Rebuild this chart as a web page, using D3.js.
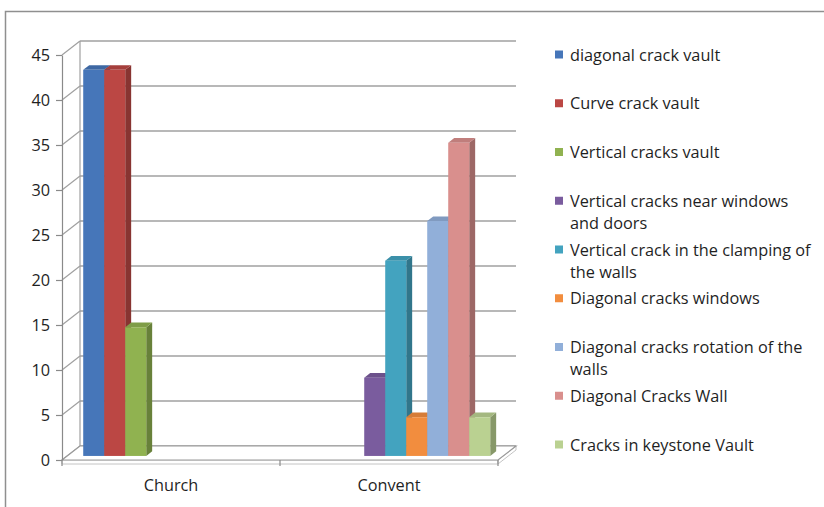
<!DOCTYPE html>
<html>
<head>
<meta charset="utf-8">
<script src="https://cdn.jsdelivr.net/npm/d3@7"></script>
<style>
  html, body { margin: 0; padding: 0; background: #ffffff; }
  svg { display: block; }
  text { font-family: "Open Sans", sans-serif; fill: #1f1f1f; }
</style>
</head>
<body>
<svg id="chart" width="824" height="507"></svg>
<script>
// Crack types recorded in the church and the convent (share of cracks, %)
const categories = ["Church", "Convent"];
const seriesNames = [
  "diagonal crack vault",
  "Curve crack vault",
  "Vertical cracks vault",
  "Vertical cracks near windows and doors",
  "Vertical crack in the clamping of the walls",
  "Diagonal cracks windows",
  "Diagonal cracks rotation of the walls",
  "Diagonal Cracks Wall",
  "Cracks in keystone Vault"
];
const seriesColors = [
  "#4676b9", "#bb4744", "#90b250", "#7a5c9e", "#43a3bf",
  "#f28d3e", "#91afd9", "#d98f8d", "#bad191"
];
const churchValues  = [42.9, 42.9, 14.3, 0, 0, 0, 0, 0, 0];
const conventValues = [0, 0, 0, 8.7, 21.7, 4.3, 26.1, 34.8, 4.3];
const yTicks = [0, 5, 10, 15, 20, 25, 30, 35, 40, 45];

const valuesByCategory = { Church: churchValues, Convent: conventValues };

const svg = d3.select("#chart");
const FONT = "'Open Sans', sans-serif";
const FONT_SIZE = 16.3;

// Outer chart border
svg.append("rect")
  .attr("x", 5.5).attr("y", 11.5)
  .attr("width", 840).attr("height", 520)
  .attr("fill", "#ffffff")
  .attr("stroke", "#8f8f8f").attr("stroke-width", 1.5);

// Oblique 3D projection: front plane plus a depth offset
const DX = 18, DY = -14;          // full depth of the floor
const F0 = 0.29, F1 = 0.62;       // bar depth span (fraction of floor depth)

const x0 = d3.scaleBand().domain(categories).range([62, 498]).padding(0);
const x1 = d3.scaleBand().domain(seriesNames).range([16, 205]).padding(0);
const y = d3.scaleLinear().domain([0, 45]).range([460, 55]);

const gridColor = "#a0a0a0";
const walls = svg.append("g");

// Back wall gridlines
walls.selectAll("line.back")
  .data(yTicks)
  .join("line")
  .attr("x1", 62 + DX).attr("x2", 498 + DX)
  .attr("y1", d => y(d) + DY).attr("y2", d => y(d) + DY)
  .attr("stroke", gridColor).attr("stroke-width", 1.4);

// Side wall gridlines (front axis to back wall)
walls.selectAll("line.side")
  .data(yTicks)
  .join("line")
  .attr("x1", 62).attr("x2", 62 + DX)
  .attr("y1", d => y(d)).attr("y2", d => y(d) + DY)
  .attr("stroke", gridColor).attr("stroke-width", 1.2);

// Back wall left edge
walls.append("line")
  .attr("x1", 62 + DX).attr("x2", 62 + DX)
  .attr("y1", y(45) + DY).attr("y2", y(0) + DY)
  .attr("stroke", gridColor).attr("stroke-width", 1.2);

// Floor slab
const fl = [[62, y(0)], [498, y(0)], [498 + DX, y(0) + DY], [62 + DX, y(0) + DY]];
walls.append("polygon")
  .attr("points", [[62, y(0)], [498, y(0)], [498, y(0) + 4], [62, y(0) + 4]].join(" "))
  .attr("fill", "#ffffff").attr("stroke", "#c4c4c4").attr("stroke-width", 1);
walls.append("polygon")
  .attr("points", [[498, y(0)], [498 + DX, y(0) + DY], [498 + DX, y(0) + DY + 4], [498, y(0) + 4]].join(" "))
  .attr("fill", "#ffffff").attr("stroke", "#c4c4c4").attr("stroke-width", 1);
walls.append("polygon")
  .attr("points", fl.join(" "))
  .attr("fill", "#ffffff").attr("stroke", "#9a9a9a").attr("stroke-width", 1.2);

// Bars
const bars = [];
categories.forEach(c => {
  valuesByCategory[c].forEach((v, i) => {
    if (v > 0) bars.push({ c, s: seriesNames[i], v, color: seriesColors[i] });
  });
});

const bw = x1.bandwidth();
const bdx = (F1 - F0) * DX, bdy = (F1 - F0) * DY;
const barG = svg.append("g");
bars.forEach(b => {
  const xl = x0(b.c) + x1(b.s) + F0 * DX;
  const xr = xl + bw;
  const yTop = y(b.v) + F0 * DY;
  const yBase = y(0) + F0 * DY;
  const base = d3.color(b.color);
  const g = barG.append("g");
  g.append("polygon")
    .attr("points", [[xr, yTop], [xr + bdx, yTop + bdy], [xr + bdx, yBase + bdy], [xr, yBase]].join(" "))
    .attr("fill", base.darker(0.9));
  g.append("polygon")
    .attr("points", [[xl, yTop], [xr, yTop], [xr + bdx, yTop + bdy], [xl + bdx, yTop + bdy]].join(" "))
    .attr("fill", base.darker(0.35));
  g.append("rect")
    .attr("x", xl).attr("y", yTop)
    .attr("width", bw).attr("height", yBase - yTop)
    .attr("fill", base);
});

// Value axis on the front edge
const yAxis = svg.append("g")
  .attr("transform", "translate(62,0)")
  .call(d3.axisLeft(y).tickValues(yTicks).tickSize(6).tickSizeOuter(0).tickPadding(6));
yAxis.select(".domain").attr("stroke", "#8a8a8a").attr("stroke-width", 1.2);
yAxis.selectAll(".tick line").attr("stroke", "#8a8a8a").attr("stroke-width", 1.2);
yAxis.selectAll(".tick text")
  .attr("font-family", FONT)
  .attr("font-size", FONT_SIZE)
  .attr("fill", "#1f1f1f");

// Category axis ticks and labels
const catBounds = [62, 280, 498];
svg.selectAll("line.cat")
  .data(catBounds)
  .join("line")
  .attr("x1", d => d).attr("x2", d => d)
  .attr("y1", y(0)).attr("y2", y(0) + 6)
  .attr("stroke", "#8a8a8a").attr("stroke-width", 1.2);
svg.selectAll("text.cat")
  .data(categories)
  .join("text")
  .attr("x", d => x0(d) + x0.bandwidth() / 2)
  .attr("y", 491)
  .attr("text-anchor", "middle")
  .attr("font-size", FONT_SIZE)
  .text(d => d);

// Legend
const legend = svg.append("g");
const legStep = 48.75;
const maxLineWidth = 246;
seriesNames.forEach((name, i) => {
  const cy = 55 + i * legStep;
  legend.append("rect")
    .attr("x", 555).attr("y", cy - 4.5)
    .attr("width", 8).attr("height", 8)
    .attr("fill", seriesColors[i]);
  const t = legend.append("text")
    .attr("font-size", FONT_SIZE);
  // wrap into lines that fit the legend column
  const words = name.split(" ");
  let line = [], lineNo = 0;
  let tspan = t.append("tspan").attr("x", 570).attr("y", cy).attr("dy", "0.35em");
  words.forEach(w => {
    line.push(w);
    tspan.text(line.join(" "));
    if (tspan.node().getComputedTextLength() > maxLineWidth && line.length > 1) {
      line.pop();
      tspan.text(line.join(" "));
      line = [w];
      lineNo++;
      tspan = t.append("tspan").attr("x", 570).attr("y", cy + lineNo * 22).attr("dy", "0.35em").text(w);
    }
  });
});
</script>
</body>
</html>
